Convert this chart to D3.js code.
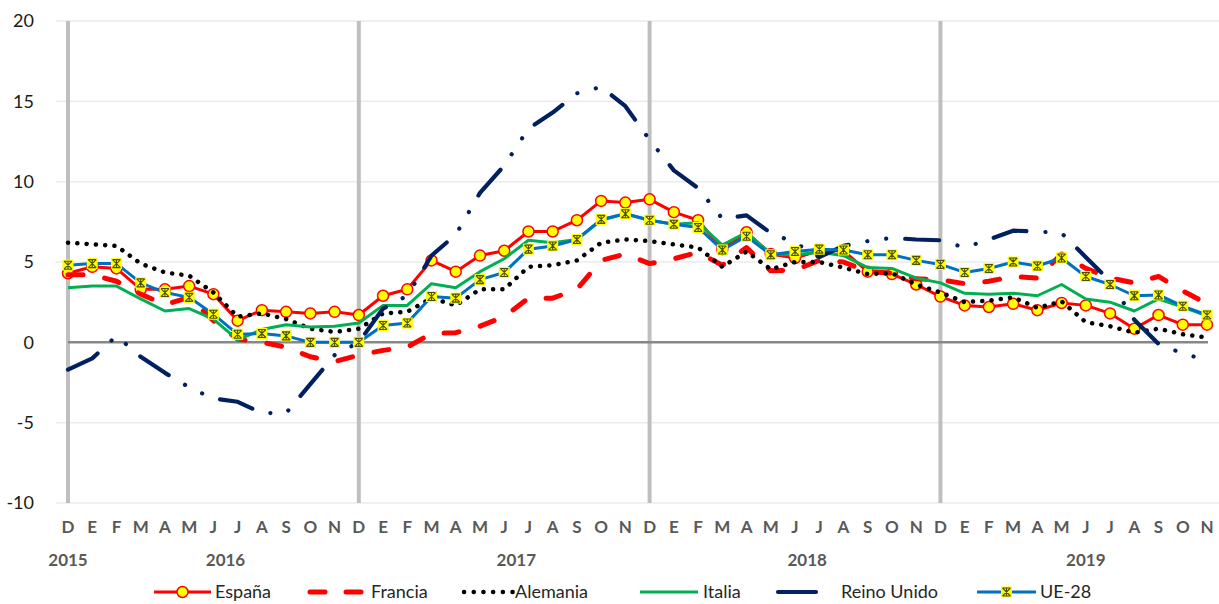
<!DOCTYPE html>
<html>
<head>
<meta charset="utf-8">
<script src="https://cdn.jsdelivr.net/npm/d3@7"></script>
<style>
  body { margin: 0; background: #fff; }
  svg { display: block; font-family: Lato, "Open Sans", sans-serif; }
</style>
</head>
<body>
<div id="chart"></div>
<script>
// Months from Dec 2015 to Nov 2019
const meses = ["D","E","F","M","A","M","J","J","A","S","O","N",
               "D","E","F","M","A","M","J","J","A","S","O","N",
               "D","E","F","M","A","M","J","J","A","S","O","N",
               "D","E","F","M","A","M","J","J","A","S","O","N"];
// year label and the month index it sits under
const years = ["2015", "2016", "2017", "2018", "2019"];
const yearPos = [0, 6.5, 18.5, 30.5, 42];
const yTicks = [-10, -5, 0, 5, 10, 15, 20];

const espana = [4.3, 4.7, 4.6, 3.3, 3.3, 3.5, 3.0, 1.35, 2.0, 1.9, 1.8, 1.9,
                1.7, 2.9, 3.3, 5.1, 4.4, 5.4, 5.7, 6.9, 6.9, 7.6, 8.8, 8.7,
                8.9, 8.1, 7.6, 5.8, 6.85, 5.5, 5.25, 5.7, 5.7, 4.4, 4.25, 3.6,
                2.85, 2.3, 2.2, 2.4, 2.0, 2.45, 2.3, 1.8, 0.85, 1.7, 1.1, 1.1];
const francia = [4.2, 4.2, 3.8, 3.0, 2.35, 2.8, 1.35, 0.2, 0.0, -0.3, -0.9, -1.2,
                 -0.8, -0.5, -0.3, 0.55, 0.6, 1.0, 1.6, 2.75, 2.75, 3.3, 5.1, 5.5,
                 4.9, 5.2, 5.6, 4.8, 5.9, 4.45, 4.5, 5.1, 5.0, 4.4, 4.3, 3.95,
                 3.9, 3.65, 3.8, 4.1, 4.0, 5.5, 4.6, 4.0, 3.7, 4.1, 3.2, 2.4];
const alemania = [6.2, 6.1, 6.0, 4.9, 4.35, 4.15, 3.1, 1.6, 1.8, 1.45, 0.85, 0.65,
                  0.85, 1.8, 1.9, 2.75, 2.3, 3.3, 3.3, 4.7, 4.8, 5.1, 6.2, 6.4,
                  6.3, 6.1, 5.9, 4.7, 5.65, 4.55, 5.0, 5.0, 4.65, 4.25, 4.3, 3.6,
                  3.1, 2.5, 2.6, 2.8, 2.15, 2.55, 1.25, 1.0, 0.6, 0.85, 0.5, 0.3];
const italia = [3.4, 3.5, 3.5, 2.7, 1.95, 2.1, 1.45, 0.15, 0.8, 1.1, 0.95, 1.0,
                1.2, 2.3, 2.3, 3.65, 3.4, 4.4, 5.2, 6.35, 6.2, 6.4, 7.6, 8.0,
                7.6, 7.35, 7.45, 6.05, 6.85, 5.5, 5.45, 5.6, 5.4, 4.65, 4.6, 4.0,
                3.7, 3.05, 3.0, 3.05, 2.9, 3.6, 2.7, 2.5, 1.95, 2.7, 2.2, 1.65];
const reinoUnido = [-1.7, -1.0, 0.4, -0.9, -1.9, -2.8, -3.5, -3.7, -4.4, -4.4, -2.6, -0.8,
                    0.0, 2.1, 2.9, 5.4, 6.7, 9.3, 11.0, 13.3, 14.3, 15.5, 15.9, 14.7,
                    12.6, 10.7, 9.6, 7.7, 7.9, 6.8, 6.2, 5.3, 6.0, 6.3, 6.5, 6.4,
                    6.35, 5.9, 6.4, 6.95, 6.9, 6.8, 5.3, 3.8, 1.4, -0.1, -0.7, -1.1];
const ue28 = [4.8, 4.9, 4.9, 3.7, 3.1, 2.8, 1.75, 0.5, 0.55, 0.4, 0.0, 0.0,
              0.0, 1.05, 1.2, 2.85, 2.75, 3.9, 4.35, 5.8, 6.0, 6.4, 7.65, 8.0,
              7.6, 7.35, 7.15, 5.75, 6.6, 5.45, 5.65, 5.8, 5.75, 5.45, 5.45, 5.1,
              4.85, 4.35, 4.6, 5.0, 4.75, 5.25, 4.1, 3.6, 2.9, 2.95, 2.25, 1.7];

const series = [
  { name: "España", values: espana, color: "#ff0000", width: 3, dash: null, marker: "circle" },
  { name: "Francia", values: francia, color: "#ff0000", width: 5, dash: "15 22", cap: "round" },
  { name: "Alemania", values: alemania, color: "#000000", width: 4.5, dash: "0.1 9.2", cap: "round" },
  { name: "Italia", values: italia, color: "#00b050", width: 3, dash: null },
  { name: "Reino Unido", values: reinoUnido, color: "#002060", width: 4.2, dash: "34 19 0.1 19 0.1 19", cap: "round" },
  { name: "UE-28", values: ue28, color: "#0070c0", width: 3, dash: null, marker: "star" }
];

const width = 1219;
const height = 604;

const x = d3.scalePoint()
    .domain(d3.range(meses.length))
    .range([68, 1207]);

const y = d3.scaleLinear()
    .domain([-10, 20])
    .range([503, 21]);

const svg = d3.select("#chart").append("svg")
    .attr("width", width)
    .attr("height", height);

// Horizontal gridlines
svg.append("g")
    .selectAll("line")
    .data(yTicks.filter(d => d !== 0))
    .join("line")
    .attr("x1", 56)
    .attr("x2", 1219)
    .attr("y1", d => y(d))
    .attr("y2", d => y(d))
    .attr("stroke", "#ebebeb")
    .attr("stroke-width", 1.5);

// Vertical separators at each December
svg.append("g")
    .selectAll("line")
    .data(d3.range(0, meses.length, 12))
    .join("line")
    .attr("x1", d => x(d))
    .attr("x2", d => x(d))
    .attr("y1", y(20))
    .attr("y2", y(-10))
    .attr("stroke", "#bfbfbf")
    .attr("stroke-width", 4);

// Zero line
svg.append("line")
    .attr("x1", x(0))
    .attr("x2", 1208)
    .attr("y1", y(0))
    .attr("y2", y(0))
    .attr("stroke", "#878787")
    .attr("stroke-width", 2.5);

// Y axis labels
svg.append("g")
    .selectAll("text")
    .data(yTicks)
    .join("text")
    .attr("x", 34)
    .attr("y", d => y(d))
    .attr("dy", "0.35em")
    .attr("text-anchor", "end")
    .style("font-size", "18px")
    .style("fill", "#1a1a1a")
    .text(d => d);

// Month labels
svg.append("g")
    .selectAll("text")
    .data(meses)
    .join("text")
    .attr("x", (d, i) => x(i))
    .attr("y", 527)
    .attr("dy", "0.35em")
    .attr("text-anchor", "middle")
    .style("font-size", "17px")
    .style("font-weight", "bold")
    .style("fill", "#595959")
    .text(d => d);

// Year labels
const xInterp = i => x(Math.floor(i)) + (i % 1) * x.step();
svg.append("g")
    .selectAll("text")
    .data(years)
    .join("text")
    .attr("x", (d, i) => xInterp(yearPos[i]))
    .attr("y", 560)
    .attr("dy", "0.35em")
    .attr("text-anchor", "middle")
    .style("font-size", "17px")
    .style("font-weight", "bold")
    .style("fill", "#595959")
    .text(d => d);

const line = d3.line()
    .x((d, i) => x(i))
    .y(d => y(d));

function drawMarker(g, type, cx, cy) {
    if (type === "circle") {
        g.append("circle")
            .attr("cx", cx).attr("cy", cy).attr("r", 5.5)
            .attr("fill", "#ffff00")
            .attr("stroke", "#ff0000")
            .attr("stroke-width", 1.5);
    } else if (type === "star") {
        g.append("rect")
            .attr("x", cx - 5.5).attr("y", cy - 5.5)
            .attr("width", 11).attr("height", 11)
            .attr("fill", "#ffff00");
        const s = 4;
        g.append("path")
            .attr("d", `M${cx - s},${cy - s}L${cx + s},${cy + s}M${cx + s},${cy - s}L${cx - s},${cy + s}M${cx},${cy - s - 0.5}L${cx},${cy + s + 0.5}M${cx - s},${cy - s}L${cx + s},${cy - s}M${cx - s},${cy + s}L${cx + s},${cy + s}`)
            .attr("stroke", "#4d4d00")
            .attr("stroke-width", 1.1)
            .attr("fill", "none");
    }
}

// Series lines
series.forEach(s => {
    const g = svg.append("g");
    g.append("path")
        .datum(s.values)
        .attr("d", line)
        .attr("fill", "none")
        .attr("stroke", s.color)
        .attr("stroke-width", s.width)
        .attr("stroke-linejoin", "round")
        .attr("stroke-linecap", s.cap || "butt")
        .attr("stroke-dasharray", s.dash);
    if (s.marker) {
        s.values.forEach((v, i) => drawMarker(g, s.marker, x(i), y(v)));
    }
});

// Legend
const legendY = 592;
const legendItems = [
    { s: series[0], x1: 154, x2: 211, tx: 215 },
    { s: series[1], x1: 310, x2: 364, tx: 371 },
    { s: series[2], x1: 464, x2: 513, tx: 515 },
    { s: series[3], x1: 640, x2: 698, tx: 703 },
    { s: series[4], x1: 778, x2: 816, tx: 841 },
    { s: series[5], x1: 977, x2: 1036, tx: 1040 }
];

const legend = svg.append("g");
legendItems.forEach(item => {
    const s = item.s;
    let dash = null;
    if (s.name === "Francia") dash = "15 21";
    if (s.name === "Alemania") dash = "0.1 9.6";
    legend.append("line")
        .attr("x1", item.x1)
        .attr("x2", item.x2)
        .attr("y1", legendY)
        .attr("y2", legendY)
        .attr("stroke", s.color)
        .attr("stroke-width", s.width)
        .attr("stroke-linecap", s.cap || "butt")
        .attr("stroke-dasharray", dash);
    if (s.marker) drawMarker(legend, s.marker, (item.x1 + item.x2) / 2, legendY);
    legend.append("text")
        .attr("x", item.tx)
        .attr("y", legendY)
        .attr("dy", "0.35em")
        .style("font-size", "18px")
        .style("fill", "#262626")
        .text(s.name);
});
</script>
</body>
</html>
